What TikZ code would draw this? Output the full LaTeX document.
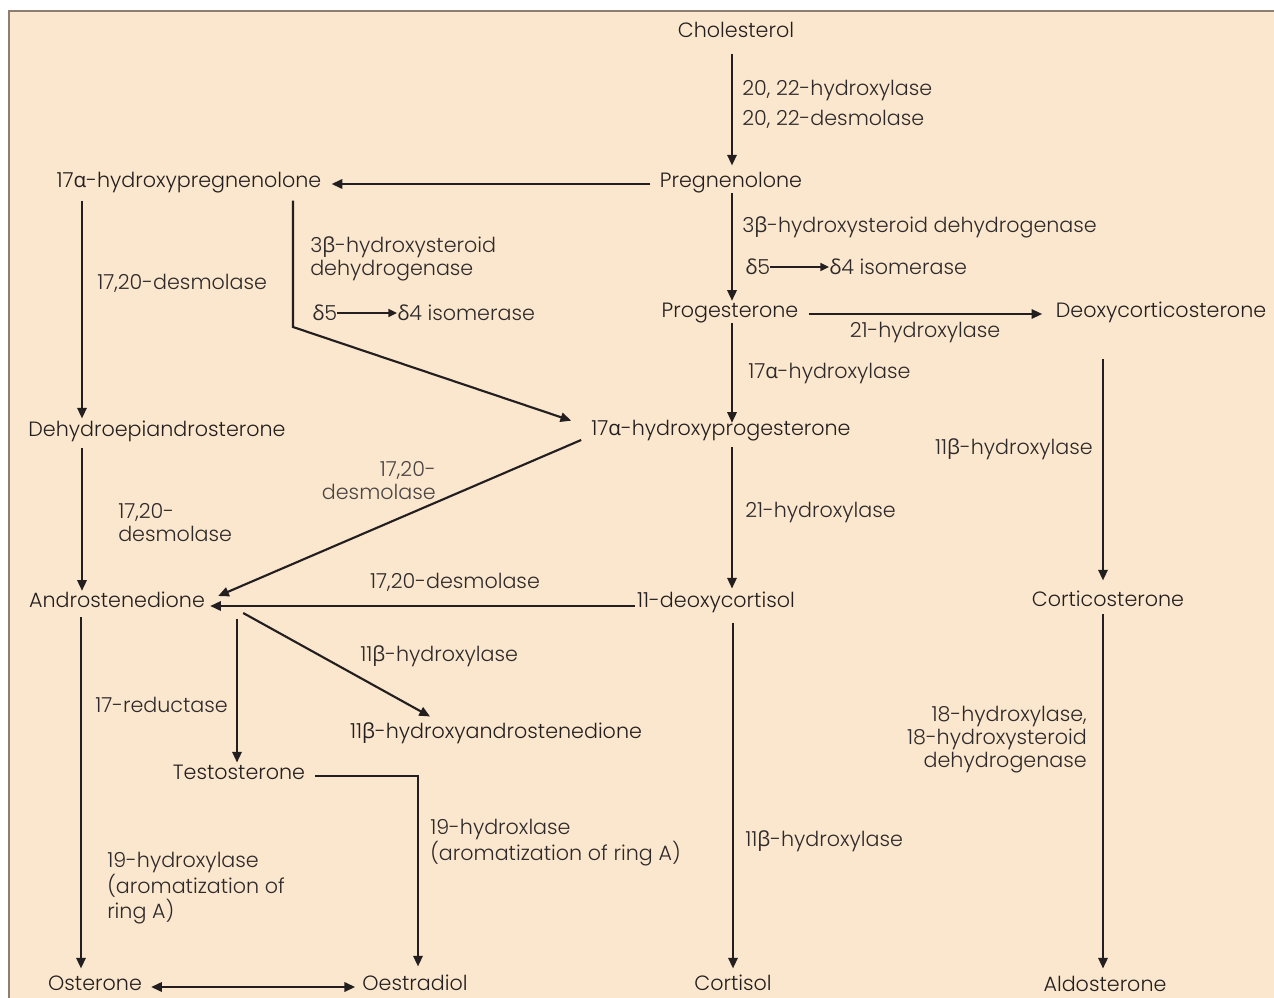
\documentclass[tikz,border=0pt]{standalone}
\usepackage{fontspec}
\setmainfont{Poppins Light}
\newfontfamily\gk{Open Sans}
\newcommand{\ga}{{\gk α}}
\newcommand{\gb}{{\gk β}}
\newcommand{\gd}{{\gk δ}}
\usetikzlibrary{arrows.meta,calc}
\definecolor{panel}{HTML}{FBE7CD}
\definecolor{frame}{HTML}{8C7E70}
\definecolor{ink}{HTML}{231F20}
\definecolor{labelink}{HTML}{2E2A2B}
\definecolor{softink}{HTML}{4A4545}
\tikzset{
  mol/.style={inner sep=0pt, text height=0.72em, text depth=0.22em, font=\fontsize{15.5}{17.25}\selectfont, text=ink, yshift=-2.25pt},
  enz/.style={inner sep=0pt, font=\fontsize{15.5}{17.25}\selectfont, text=labelink, yshift=-2.25pt},
  arr/.style={draw=ink, line width=1.6pt, -{Triangle[length=8pt,width=7pt]}},
  darr/.style={draw=ink, line width=1.6pt, {Triangle[length=8pt,width=7pt]}-{Triangle[length=8pt,width=7pt]}},
  iso/.style={draw=ink, line width=1.2pt, -{Triangle[length=6.5pt,width=6pt]}},
}
\begin{document}
\begin{tikzpicture}[x=0.75pt,y=-0.75pt]
\useasboundingbox (0,0) rectangle (1274,998);
% panel
\fill[white] (0,0) rectangle (1274,998);
\fill[panel] (9,11) rectangle (1274,998);
\draw[frame, line width=1.2pt] (9,998) -- (9,11) -- (1274,11);

% spine x-positions
\coordinate (xA) at (732,0);
\coordinate (xB) at (733,0);
\coordinate (xC) at (1103,0);
\coordinate (xL) at (82,0);
\coordinate (xL2) at (81,0);
\coordinate (xT) at (237,0);
\coordinate (xP) at (293,0);
\coordinate (xO) at (418,0);
\coordinate (bend) at (293,327);

% molecules
\node[mol] (chol) at (736,31) {Cholesterol};
\node[mol] (preg) at (731,181) {Pregnenolone};
\node[mol] (hpreg) at (189,181) {17\ga-hydroxypregnenolone};
\node[mol] (prog) at (730,311) {Progesterone};
\node[mol] (doc) at (1161,311) {Deoxycorticosterone};
\node[mol] (hprog) at (721,429) {17\ga-hydroxyprogesterone};
\node[mol] (dhea) at (157,430) {Dehydroepiandrosterone};
\node[mol] (andro) at (117,601) {Androstenedione};
\node[mol] (deoxy) at (716,601) {11-deoxycortisol};
\node[mol] (cort) at (1108,600) {Corticosterone};
\node[mol] (ohandro) at (496,732) {11\gb-hydroxyandrostenedione};
\node[mol] (testo) at (239,773) {Testosterone};
\node[mol] (oster) at (95,984) {Osterone};
\node[mol] (oestr) at (415,984) {Oestradiol};
\node[mol] (cortisol) at (733,984) {Cortisol};
\node[mol] (aldo) at (1105,985) {Aldosterone};

% reactions
\draw[arr, shorten <=10pt, shorten >=9pt] (chol.south -| xA) -- (preg.north -| xA);
\draw[arr, shorten <=7pt, shorten >=7.5pt] (preg.west) -- (hpreg.east);
\draw[arr, shorten <=2pt, shorten >=5pt] (preg.south -| xA) -- (prog.north -| xA);
\draw[arr, shorten <=7.5pt, shorten >=10pt] (prog.east) -- (doc.west);
\draw[arr, shorten <=2pt, shorten >=2pt] (prog.south -| xA) -- (hprog.north -| xA);
\draw[arr, shorten <=7.5pt] (hpreg.south -| xP) -- (bend) -- ([xshift=-15pt,yshift=8.5pt]hprog.west);
\draw[arr, shorten <=7.5pt, shorten >=6pt] (hpreg.south -| xL) -- (dhea.north -| xL);
\draw[arr, shorten <=6pt, shorten >=5pt] (dhea.south -| xL) -- (andro.north -| xL);
\draw[arr] ([xshift=-7.5pt,yshift=-6pt]hprog.west) -- ([xshift=9.75pt,yshift=6pt]andro.east);
\draw[arr, shorten <=1.5pt, shorten >=3.75pt] ([yshift=-1.5pt]deoxy.west) -- ([yshift=-1.5pt]deoxy.west -| andro.east);
\draw[arr, shorten <=6.7pt, shorten >=6.7pt] (hprog.south -| xA) -- (deoxy.north -| xA);
\draw[arr, shorten <=9pt, shorten >=9pt] (deoxy.south -| xB) -- (cortisol.north -| xB);
\draw[arr, shorten <=29pt, shorten >=12pt] (doc.south -| xC) -- (cort.north -| xC);
\draw[arr, shorten <=3.7pt, shorten >=9.7pt] (cort.south -| xC) -- (aldo.north -| xC);
\draw[arr, shorten <=5.2pt, shorten >=9pt] (andro.south -| xL2) -- (oster.north -| xL2);
\draw[arr, shorten <=6.7pt, shorten >=5.2pt] (andro.south -| xT) -- (testo.north -| xT);
\draw[arr] ([xshift=28.5pt,yshift=-6.75pt]andro.east) -- ([xshift=-49.5pt,yshift=9pt]ohandro.north);
\draw[arr, shorten <=7.5pt, shorten >=10.5pt] (testo.east) -- (testo.east -| xO) -- (oestr.north -| xO);
\draw[darr, shorten <=6.75pt, shorten >=5.25pt] (oster.east) -- (oestr.west);

% enzymes
\node[enz, anchor=west] (e1) at (742,88) {20, 22-hydroxylase};
\node[enz, anchor=west] (e2) at (742,116) {20, 22-desmolase};
\node[enz, anchor=west] (e3) at (742,224) {3\gb-hydroxysteroid dehydrogenase};
\node[enz, anchor=west] (i1a) at (745,264) {\gd5};
\node[enz, anchor=west] (i1b) at (829,264) {\gd4 isomerase};
\draw[iso] (i1a.east) -- (i1b.west);
\node[enz] (e4) at (925,330) {21-hydroxylase};
\node[enz, anchor=west] (e5) at (748,371) {17\ga-hydroxylase};
\node[enz, anchor=west, align=left] (e6) at (310,256) {3\gb-hydroxysteroid\\dehydrogenase};
\node[enz, anchor=west] (i2a) at (312,310) {\gd5};
\node[enz, anchor=west] (i2b) at (397,310) {\gd4 isomerase};
\draw[iso] (i2a.east) -- (i2b.west);
\node[enz, anchor=west] (e7) at (97,280) {17,20-desmolase};
\node[enz, anchor=west, align=left] (e8) at (118,519.5) {17,20-\\desmolase};
\node[enz, anchor=east, align=right, text=softink] (e9) at (436,477.5) {17,20-\\desmolase};
\node[enz] (e10) at (455,579) {17,20-desmolase};
\node[enz, anchor=west] (e11) at (745,510) {21-hydroxylase};
\node[enz, anchor=west] (e12) at (745,838) {11\gb-hydroxylase};
\node[enz, anchor=east] (e13) at (1093,446) {11\gb-hydroxylase};
\node[enz, anchor=east, align=right] (e14) at (1087,737) {18-hydroxylase,\\18-hydroxysteroid\\dehydrogenase};
\node[enz, anchor=west] (e15) at (95,702) {17-reductase};
\node[enz, anchor=west] (e16) at (360,653) {11\gb-hydroxylase};
\node[enz, anchor=west, align=left] (e17) at (430,839.5) {19-hydroxlase\\(aromatization of ring A)};
\node[enz, anchor=west, align=left] (e18) at (107,885) {19-hydroxylase\\(aromatization of\\ring A)};
\end{tikzpicture}
\end{document}
